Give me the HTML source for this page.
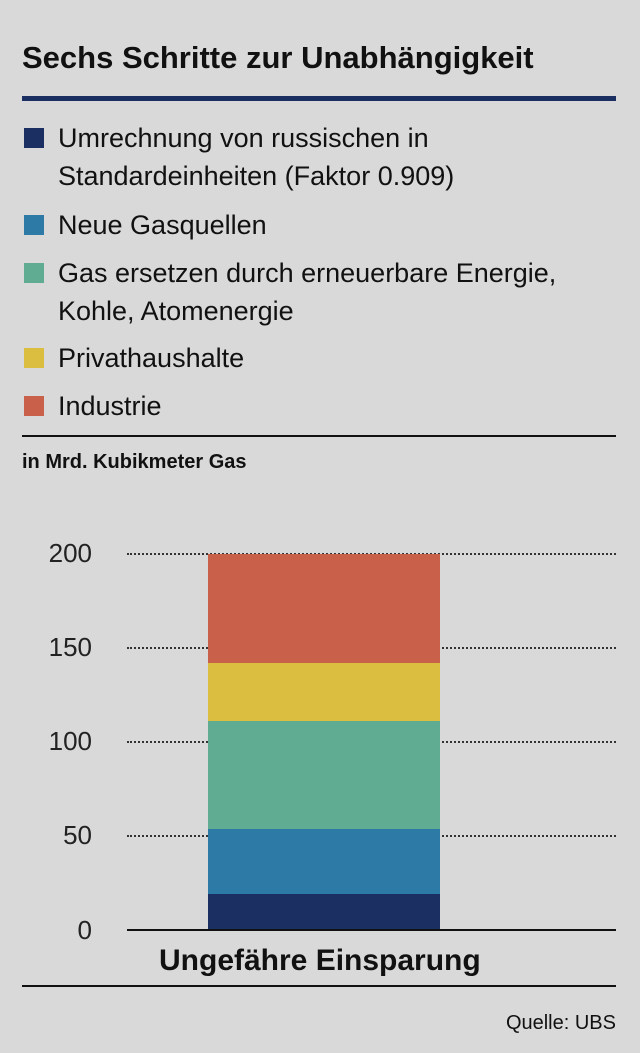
<!DOCTYPE html>
<html><head><meta charset="utf-8"><style>
body{margin:0;width:640px;height:1053px;background:#d9d9d9;position:relative;font-family:"Liberation Sans",sans-serif;color:#111;overflow:hidden}
.a{position:absolute;white-space:nowrap}
.sq{position:absolute;left:24px;width:20px;height:20px}
.lg{position:absolute;left:58px;font-size:27px;line-height:38px}
.grid{position:absolute;left:127px;width:489px;border-top:2px dotted #333;height:0}
.tk{position:absolute;width:92px;text-align:right;left:0;font-size:26px;color:#222}
</style></head><body>
<div class="a" style="left:22px;top:40px;font-size:31px;font-weight:bold">Sechs Schritte zur Unabhängigkeit</div>
<div class="a" style="left:22px;top:96px;width:594px;height:5px;background:#1b2f63"></div>
<div class="sq" style="top:128px;background:#1b2f63"></div>
<div class="lg" style="top:119px">Umrechnung von russischen in<br>Standardeinheiten (Faktor 0.909)</div>
<div class="sq" style="top:215px;background:#2e7aa6"></div>
<div class="lg" style="top:206px">Neue Gasquellen</div>
<div class="sq" style="top:263px;background:#5fac93"></div>
<div class="lg" style="top:254px">Gas ersetzen durch erneuerbare Energie,<br>Kohle, Atomenergie</div>
<div class="sq" style="top:348px;background:#dbbe40"></div>
<div class="lg" style="top:339px">Privathaushalte</div>
<div class="sq" style="top:396px;background:#c9604a"></div>
<div class="lg" style="top:387px">Industrie</div>
<div class="a" style="left:22px;top:435px;width:594px;height:2px;background:#111"></div>
<div class="a" style="left:22px;top:451px;font-size:20px;font-weight:bold">in Mrd. Kubikmeter Gas</div>
<div class="grid" style="top:553px"></div>
<div class="grid" style="top:647px"></div>
<div class="grid" style="top:741px"></div>
<div class="grid" style="top:835px"></div>
<div class="tk" style="top:538px">200</div>
<div class="tk" style="top:632px">150</div>
<div class="tk" style="top:726px">100</div>
<div class="tk" style="top:820px">50</div>
<div class="tk" style="top:915px">0</div>
<div class="a" style="left:208px;width:232px;top:554px;height:109px;background:#c9604a"></div>
<div class="a" style="left:208px;width:232px;top:663px;height:58px;background:#dbbe40"></div>
<div class="a" style="left:208px;width:232px;top:721px;height:108px;background:#5fac93"></div>
<div class="a" style="left:208px;width:232px;top:829px;height:65px;background:#2e7aa6"></div>
<div class="a" style="left:208px;width:232px;top:894px;height:36px;background:#1b2f63"></div>
<div class="a" style="left:127px;top:929px;width:489px;height:2px;background:#111"></div>
<div class="a" style="left:159px;top:944px;font-size:30px;font-weight:bold">Ungefähre Einsparung</div>
<div class="a" style="left:22px;top:985px;width:594px;height:2px;background:#111"></div>
<div class="a" style="right:24px;top:1012px;font-size:20px">Quelle: UBS</div>
</body></html>
